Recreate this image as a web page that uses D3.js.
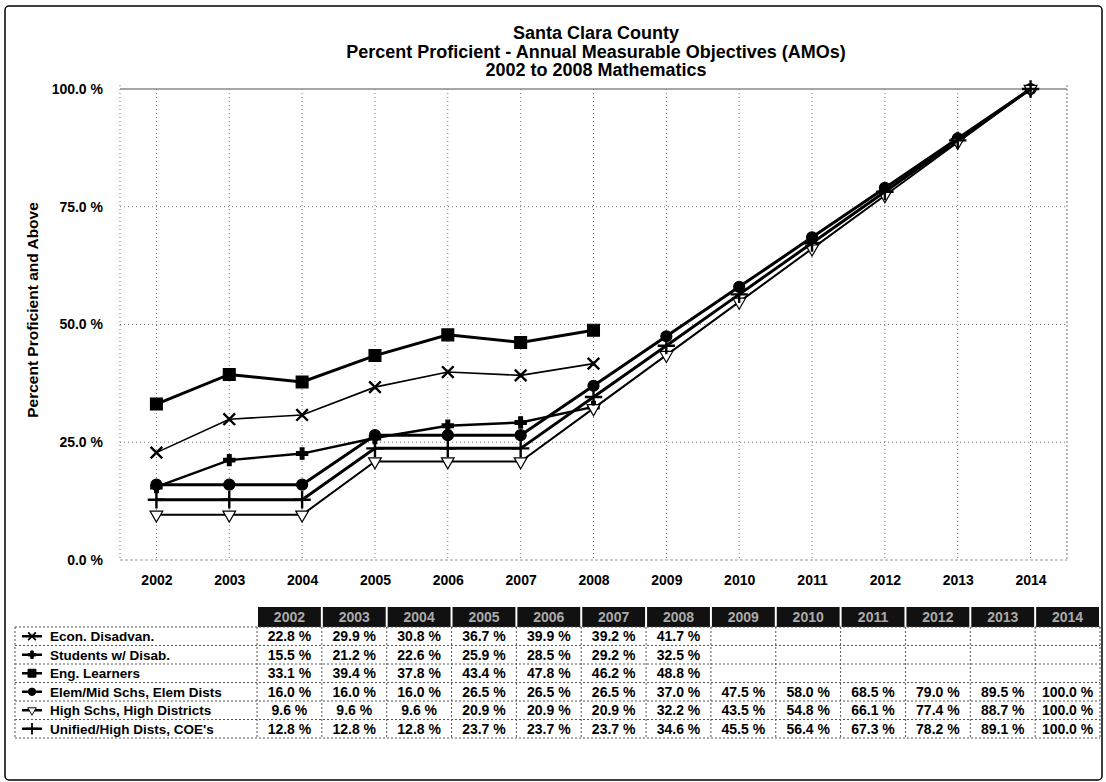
<!DOCTYPE html>
<html>
<head>
<meta charset="utf-8">
<script src="https://cdn.jsdelivr.net/npm/d3@7"></script>
<style>
  body { margin: 0; background: #fff; }
  text { font-family: Arial, "Liberation Sans", sans-serif; font-weight: bold; }
</style>
</head>
<body>
<div id="chart"></div>
<script>
// data
var years = [2002, 2003, 2004, 2005, 2006, 2007, 2008, 2009, 2010, 2011, 2012, 2013, 2014];
var seriesNames = ["Econ. Disadvan.", "Students w/ Disab.", "Eng. Learners",
    "Elem/Mid Schs, Elem Dists", "High Schs, High Districts", "Unified/High Dists, COE's"];
var econ = [22.8, 29.9, 30.8, 36.7, 39.9, 39.2, 41.7];
var disab = [15.5, 21.2, 22.6, 25.9, 28.5, 29.2, 32.5];
var engl = [33.1, 39.4, 37.8, 43.4, 47.8, 46.2, 48.8];
var elem = [16.0, 16.0, 16.0, 26.5, 26.5, 26.5, 37.0, 47.5, 58.0, 68.5, 79.0, 89.5, 100.0];
var high = [9.6, 9.6, 9.6, 20.9, 20.9, 20.9, 32.2, 43.5, 54.8, 66.1, 77.4, 88.7, 100.0];
var unified = [12.8, 12.8, 12.8, 23.7, 23.7, 23.7, 34.6, 45.5, 56.4, 67.3, 78.2, 89.1, 100.0];
var yTicks = [0, 25, 50, 75, 100];

var series = [
    { name: seriesNames[0], values: econ, symbol: d3.symbolX, size: 90, fill: "none", width: 1.6 },
    { name: seriesNames[1], values: disab, symbol: d3.symbolCross, size: 70, fill: "#000", width: 2.4 },
    { name: seriesNames[2], values: engl, symbol: d3.symbolSquare, size: 140, fill: "#000", width: 3 },
    { name: seriesNames[3], values: elem, symbol: d3.symbolCircle, size: 95, fill: "#000", width: 3 },
    { name: seriesNames[4], values: high, symbol: d3.symbolTriangle, size: 70, fill: "#fff", width: 2, flip: true },
    { name: seriesNames[5], values: unified, symbol: d3.symbolPlus, size: 100, fill: "none", width: 3 }
];

var W = 1106, H = 782;
var plot = { left: 120, right: 1067, top: 89, bottom: 560 };

var svg = d3.select("#chart").append("svg")
    .attr("width", W)
    .attr("height", H);

// outer frame
svg.append("rect")
    .attr("x", 5).attr("y", 6)
    .attr("width", W - 9).attr("height", H - 8)
    .attr("rx", 4)
    .attr("fill", "none")
    .attr("stroke", "#000")
    .attr("stroke-width", 1.5);

// titles
var titles = ["Santa Clara County",
    "Percent Proficient - Annual Measurable Objectives (AMOs)",
    "2002 to 2008 Mathematics"];
svg.selectAll("text.title").data(titles).join("text")
    .attr("class", "title")
    .attr("x", 596)
    .attr("y", function (d, i) { return 39 + i * 18.5; })
    .attr("text-anchor", "middle")
    .style("font-size", "18px")
    .text(function (d) { return d; });

// scales
var x = d3.scalePoint()
    .domain(years)
    .range([plot.left, plot.right])
    .padding(0.5);
var y = d3.scaleLinear()
    .domain([0, 100])
    .range([plot.bottom, plot.top]);

// grid
var grid = svg.append("g").attr("stroke", "#777").attr("stroke-width", 1).attr("stroke-dasharray", "1,3");
grid.selectAll("line.v").data(years).join("line")
    .attr("x1", function (d) { return x(d); }).attr("x2", function (d) { return x(d); })
    .attr("y1", plot.top).attr("y2", plot.bottom);
grid.selectAll("line.h").data([25, 50, 75]).join("line")
    .attr("x1", plot.left).attr("x2", plot.right)
    .attr("y1", function (d) { return y(d); }).attr("y2", function (d) { return y(d); });
grid.append("line").attr("x1", plot.left).attr("x2", plot.left).attr("y1", plot.top - 4).attr("y2", plot.bottom);
grid.append("line").attr("x1", plot.right).attr("x2", plot.right).attr("y1", plot.top - 4).attr("y2", plot.bottom)
    .attr("stroke-dasharray", "2,2");
svg.append("line")
    .attr("x1", plot.left).attr("x2", plot.right)
    .attr("y1", y(100)).attr("y2", y(100))
    .attr("stroke", "#888").attr("stroke-width", 1.5);
svg.append("line")
    .attr("x1", plot.left).attr("x2", plot.right)
    .attr("y1", y(0)).attr("y2", y(0))
    .attr("stroke", "#999").attr("stroke-width", 1).attr("stroke-dasharray", "3,2");

// axes
var yAxis = svg.append("g")
    .attr("transform", "translate(" + (plot.left - 14) + ",0)")
    .call(d3.axisLeft(y).tickValues(yTicks).tickSize(0)
        .tickFormat(function (d) { return d.toFixed(1) + " %"; }));
yAxis.select(".domain").remove();
yAxis.selectAll("text").style("font-size", "14px").attr("fill", "#000");

var xAxis = svg.append("g")
    .attr("transform", "translate(0," + (plot.bottom + 12) + ")")
    .call(d3.axisBottom(x).tickSize(0));
xAxis.select(".domain").remove();
xAxis.selectAll("text").style("font-size", "14px").attr("fill", "#000");

svg.append("text")
    .attr("transform", "translate(38,310) rotate(-90)")
    .attr("text-anchor", "middle")
    .style("font-size", "15.5px")
    .text("Percent Proficient and Above");

// lines and markers
var line = d3.line()
    .x(function (d, i) { return x(years[i]); })
    .y(function (d) { return y(d); });

series.forEach(function (s) {
    svg.append("path")
        .datum(s.values)
        .attr("d", line)
        .attr("fill", "none")
        .attr("stroke", "#000")
        .attr("stroke-width", s.width);
    svg.selectAll(null).data(s.values).join("path")
        .attr("transform", function (d, i) {
            return "translate(" + x(years[i]) + "," + y(d) + ")" + (s.flip ? " rotate(180)" : "");
        })
        .attr("d", d3.symbol().type(s.symbol).size(s.size))
        .attr("fill", s.fill)
        .attr("stroke", "#000")
        .attr("stroke-width", s.fill == "none" ? 2.4 : 1.2);
});

// data table
var tbl = { left: 15, colStart: 257, right: 1100, headTop: 607, headH: 20, rowH: 18.5 };
var col = d3.scaleBand()
    .domain(years)
    .range([tbl.colStart, tbl.right]);
var tableBottom = tbl.headTop + tbl.headH + series.length * tbl.rowH;

// header cells
svg.selectAll("rect.head").data(years).join("rect")
    .attr("x", function (d) { return col(d) + 1; })
    .attr("y", tbl.headTop)
    .attr("width", col.bandwidth() - 2)
    .attr("height", tbl.headH)
    .attr("fill", "#111");
svg.selectAll("text.head").data(years).join("text")
    .attr("x", function (d) { return col(d) + col.bandwidth() / 2; })
    .attr("y", tbl.headTop + 15)
    .attr("text-anchor", "middle")
    .attr("fill", "#aaa")
    .style("font-size", "14px")
    .text(function (d) { return d; });

// row borders
var borders = svg.append("g").attr("stroke", "#555").attr("stroke-width", 1).attr("stroke-dasharray", "2,2");
d3.range(series.length + 1).forEach(function (i) {
    var yy = tbl.headTop + tbl.headH + i * tbl.rowH;
    borders.append("line").attr("x1", tbl.left).attr("x2", tbl.right).attr("y1", yy).attr("y2", yy);
});
[tbl.left, tbl.colStart].concat(years.map(function (d) { return col(d) + col.bandwidth(); })).forEach(function (xx) {
    borders.append("line").attr("x1", xx).attr("x2", xx)
        .attr("y1", tbl.headTop + tbl.headH).attr("y2", tableBottom);
});

// rows
series.forEach(function (s, r) {
    var cy = tbl.headTop + tbl.headH + r * tbl.rowH + tbl.rowH / 2;
    svg.append("line")
        .attr("x1", 22).attr("x2", 42).attr("y1", cy).attr("y2", cy)
        .attr("stroke", "#000").attr("stroke-width", 2.5);
    svg.append("path")
        .attr("transform", "translate(32," + cy + ")" + (s.flip ? " rotate(180)" : ""))
        .attr("d", d3.symbol().type(s.symbol).size(s.size * 0.45))
        .attr("fill", s.fill)
        .attr("stroke", "#000")
        .attr("stroke-width", s.fill == "none" ? 1.8 : 1);
    svg.append("text")
        .attr("x", 50).attr("y", cy + 5)
        .style("font-size", "13.5px")
        .text(s.name);
    svg.selectAll(null).data(s.values).join("text")
        .attr("x", function (d, i) { return col(years[i]) + col.bandwidth() / 2; })
        .attr("y", cy + 5)
        .attr("text-anchor", "middle")
        .style("font-size", "14px")
        .text(function (d) { return d.toFixed(1) + " %"; });
});
</script>
</body>
</html>
